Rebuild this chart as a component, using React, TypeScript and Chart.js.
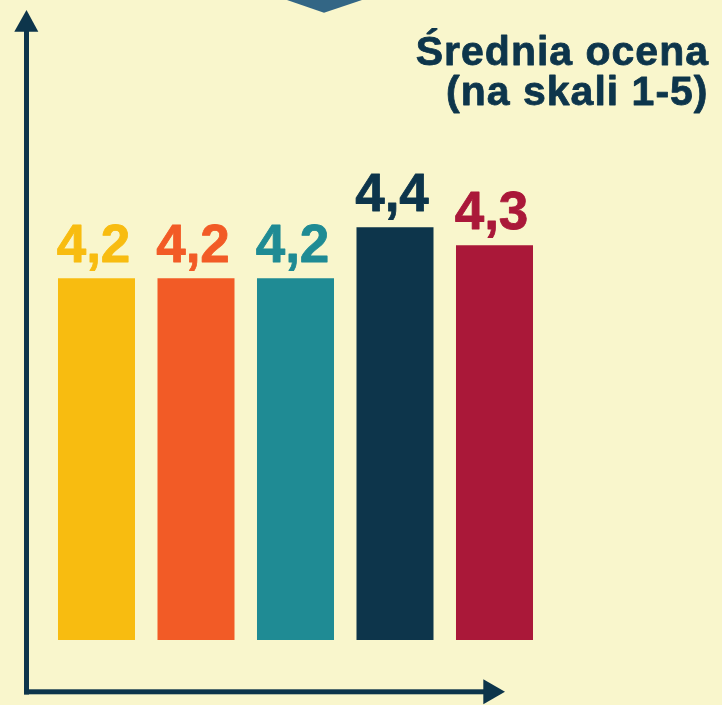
import React, { useEffect, useRef } from "react";
import { Chart, registerables } from "chart.js";

Chart.register(...registerables);

const categories = ["A", "B", "C", "D", "E"];
const values = [4.2, 4.2, 4.2, 4.4, 4.33];
const barColors = ["#F8BC10", "#F25B26", "#1F8B94", "#0D354B", "#AA1839"];
const titleLines = ["Średnia ocena", "(na skali 1-5)"];
const yMin = 2.78;
const yMax = 4.9;

const BG = "#F9F6CC";
const NAVY = "#0D354B";

const decorPlugin = {
  id: "decor",
  beforeDraw(chart: any) {
    const ctx = chart.ctx;
    ctx.save();
    ctx.fillStyle = BG;
    ctx.fillRect(0, 0, chart.width, chart.height);
    // top ribbon tip
    ctx.fillStyle = "#336685";
    ctx.beginPath();
    ctx.moveTo(287, 0);
    ctx.lineTo(362, 0);
    ctx.lineTo(324, 12.7);
    ctx.closePath();
    ctx.fill();
    // axes
    ctx.fillStyle = NAVY;
    ctx.fillRect(24, 30, 5, 664.5);
    ctx.fillRect(24, 689.3, 461, 5);
    ctx.beginPath();
    ctx.moveTo(26.5, 10);
    ctx.lineTo(38.3, 31.7);
    ctx.lineTo(14.3, 31.7);
    ctx.closePath();
    ctx.fill();
    ctx.beginPath();
    ctx.moveTo(505, 691.8);
    ctx.lineTo(483.3, 679.3);
    ctx.lineTo(483.3, 704.3);
    ctx.closePath();
    ctx.fill();
    // title
    ctx.fillStyle = NAVY;
    ctx.strokeStyle = NAVY;
    ctx.lineWidth = 0.8;
    ctx.lineJoin = "round";
    ctx.font = "bold 41px 'Liberation Sans', Arial, sans-serif";
    (ctx as any).letterSpacing = "1px";
    ctx.textAlign = "right";
    ctx.textBaseline = "alphabetic";
    ctx.fillText(titleLines[0], 709, 64.5);
    ctx.strokeText(titleLines[0], 709, 64.5);
    ctx.fillText(titleLines[1], 708.5, 105);
    ctx.strokeText(titleLines[1], 708.5, 105);
    ctx.restore();
  },
  afterDatasetsDraw(chart: any) {
    const ctx = chart.ctx;
    const meta = chart.getDatasetMeta(0);
    ctx.save();
    ctx.font = "bold 53px 'Liberation Sans', Arial, sans-serif";
    ctx.textAlign = "center";
    ctx.textBaseline = "alphabetic";
    ctx.lineWidth = 0.8;
    ctx.lineJoin = "round";
    meta.data.forEach((bar: any, i: number) => {
      const v = chart.data.datasets[0].data[i] as number;
      const label = v.toFixed(1).replace(".", ",");
      ctx.fillStyle = barColors[i];
      ctx.strokeStyle = barColors[i];
      ctx.fillText(label, bar.x - 3, bar.y - 16.5);
      ctx.strokeText(label, bar.x - 3, bar.y - 16.5);
    });
    ctx.restore();
  },
};

export default function App() {
  const ref = useRef<HTMLCanvasElement>(null);
  useEffect(() => {
    document.body.style.margin = "0";
    document.body.style.background = BG;
    const chart = new Chart(ref.current!, {
      type: "bar",
      data: {
        labels: categories,
        datasets: [
          {
            data: values,
            backgroundColor: barColors,
            borderWidth: 0,
            barPercentage: 0.774,
            categoryPercentage: 1,
          },
        ],
      },
      options: {
        responsive: false,
        animation: false,
        devicePixelRatio: 1,
        layout: { padding: { left: 46.75, right: 177.75, top: 100, bottom: 65 } },
        scales: {
          x: { display: false, offset: true, grid: { display: false } },
          y: { display: false, min: yMin, max: yMax },
        },
        plugins: {
          legend: { display: false },
          tooltip: { enabled: false },
          title: { display: false },
        },
      },
      plugins: [decorPlugin],
    });
    return () => chart.destroy();
  }, []);
  return (
    <div style={{ width: 722, height: 705, background: BG }}>
      <canvas ref={ref} width={722} height={705} style={{ display: "block" }} />
    </div>
  );
}
